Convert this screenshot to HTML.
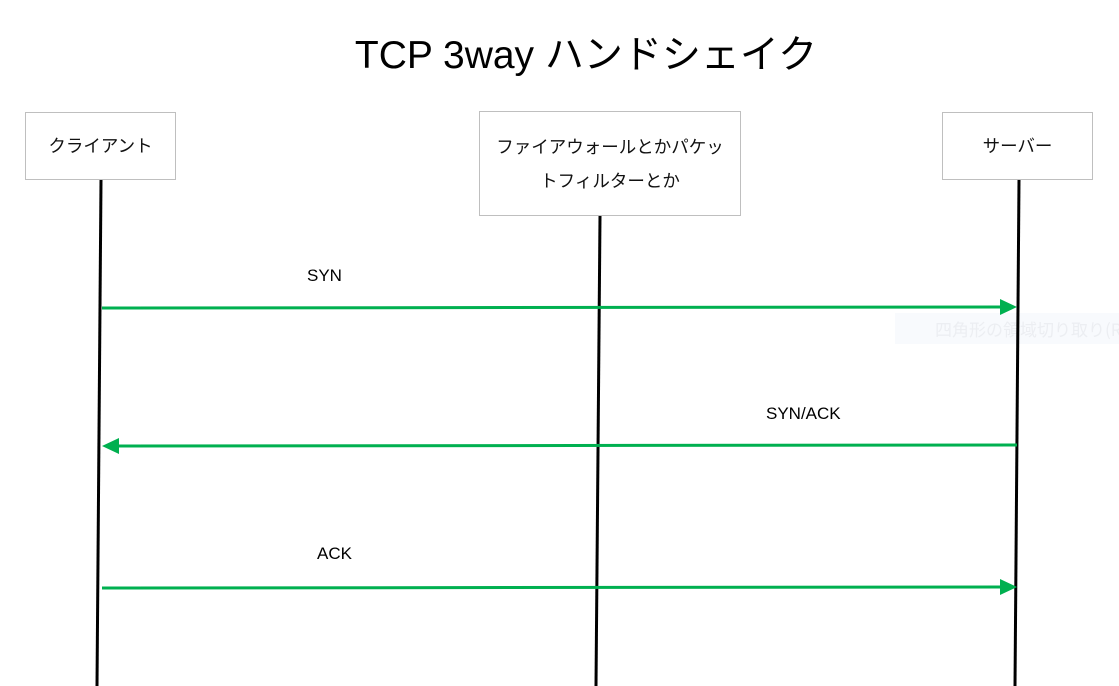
<!DOCTYPE html>
<html><head><meta charset="utf-8"><style>
body{margin:0;background:#fff;width:1119px;height:686px;overflow:hidden;position:relative;font-family:"Liberation Sans","Noto Sans CJK JP",sans-serif}
.t{position:absolute;white-space:nowrap}
.box{position:absolute;box-sizing:border-box;border:1px solid #bfbfbf;background:#fff;display:flex;align-items:center;justify-content:center;text-align:center;font-size:17.5px;color:#111;line-height:34px}
</style></head><body>
<div class="t" style="left:0;width:1172px;text-align:center;top:24px;font-size:39px;color:#000">TCP 3way ハンドシェイク</div>
<svg width="1119" height="686" style="position:absolute;left:0;top:0">
<rect x="895" y="313" width="224" height="31" fill="#f8fafd"/>
<text x="935" y="336" font-size="17" fill="#eceef2" font-family="Noto Sans CJK JP,sans-serif">四角形の領域切り取り(R)</text>
<g stroke="#000" stroke-width="3">
<line x1="101" y1="180" x2="97" y2="686"/>
<line x1="600" y1="216" x2="596" y2="686"/>
<line x1="1019" y1="180" x2="1015" y2="686"/>
</g>
<g stroke="#00b050" stroke-width="3">
<line x1="102" y1="308" x2="1002" y2="307"/>
<line x1="1017" y1="445" x2="117" y2="446"/>
<line x1="102" y1="588" x2="1002" y2="587"/>
</g>
<g fill="#00b050">
<polygon points="1017,307 1000,299 1000,315"/>
<polygon points="102,446 119,438 119,454"/>
<polygon points="1017,587 1000,579 1000,595"/>
</g>
</svg>
<div class="box" style="left:25px;top:112px;width:151px;height:68px">クライアント</div>
<div class="box" style="left:479px;top:111px;width:262px;height:105px">ファイアウォールとかパケッ<br>トフィルターとか</div>
<div class="box" style="left:942px;top:112px;width:151px;height:68px">サーバー</div>
<div class="t" style="left:307px;top:266px;font-size:17px">SYN</div>
<div class="t" style="left:766px;top:404px;font-size:17px">SYN/ACK</div>
<div class="t" style="left:317px;top:544px;font-size:17px">ACK</div>
</body></html>
